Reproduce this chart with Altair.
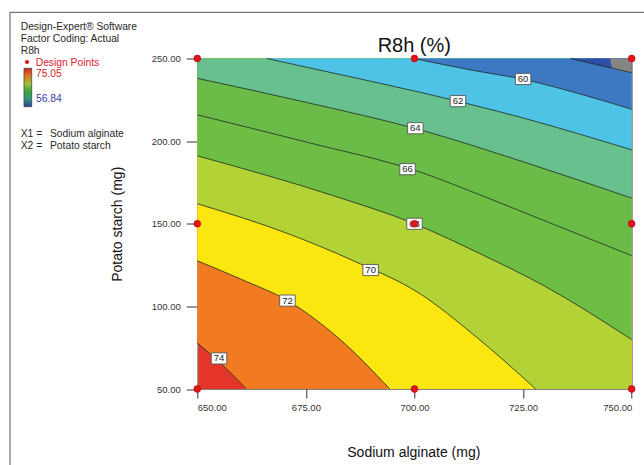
import altair as alt
import pandas as pd

# ---------------- data ----------------
sodium_ticks = [650, 675, 700, 725, 750]
potato_ticks = [50, 100, 150, 200, 250]

# contour lines (x = Sodium alginate, y = Potato starch)
c74_x = [650.0, 655.6, 661.3]
c74_y = [77.9, 65.0, 50.0]
c72_x = [650.0, 660.0, 670.75, 682.9, 694.3]
c72_y = [127.6, 116.5, 103.5, 79.9, 50.0]
c70_x = [650.0, 671.4, 686.0, 701.35, 713.3, 727.9]
c70_y = [162.1, 143.5, 127.5, 107.5, 83.5, 50.0]
c68_x = [650.0, 681.4, 700.0, 715.0, 729.8, 750.0]
c68_y = [191.1, 166.9, 150.0, 132.0, 112.5, 79.9]
c66_x = [650.0, 675.0, 701.35, 716.0, 729.0, 750.0]
c66_y = [215.9, 199.5, 181.2, 166.5, 152.8, 130.7]
c64_x = [650.0, 675.0, 701.35, 725.0, 750.0]
c64_y = [238.0, 223.5, 206.8, 187.5, 165.5]
c62_x = [666.0, 683.7, 701.35, 725.0, 750.0]
c62_y = [250.0, 239.8, 229.5, 214.0, 194.7]
c60_x = [699.8, 712.9, 725.0, 737.5, 750.0]
c60_y = [250.0, 243.1, 237.4, 229.0, 219.3]
c58_x = [735.9, 750.0]
c58_y = [250.0, 241.4]
low_x = [745.0, 745.6, 750.0]      # region below the colour range (grey)
low_y = [250.0, 244.1, 241.4]

label_text = ["60", "62", "64", "66", "68", "70", "72", "74"]
label_x = [725.0, 710.0, 700.2, 698.4, 700.0, 689.9, 670.75, 655.0]
label_y = [237.6, 224.2, 207.8, 183.0, 150.0, 122.0, 103.5, 68.5]

design_x = [650, 650, 650, 700, 700, 700, 750, 750, 750]
design_y = [50, 150, 250, 50, 150, 250, 50, 150, 250]

# ---------------- styling ----------------
FONT = "Liberation Sans"
band_colors = {
    74: "#F27A21",  # 72-74
    72: "#FCE60F",  # 70-72
    70: "#B3D235",  # 68-70
    68: "#6FBE44",  # 66-68
    66: "#6ABB47",  # 64-66
    64: "#67C08E",  # 62-64
    62: "#4EC3E5",  # 60-62
    60: "#3D79C3",  # 58-60
    58: "#2F4EA7",  # <58
}
contours = [
    (74, c74_x, c74_y), (72, c72_x, c72_y), (70, c70_x, c70_y),
    (68, c68_x, c68_y), (66, c66_x, c66_y), (64, c64_x, c64_y),
    (62, c62_x, c62_y), (60, c60_x, c60_y), (58, c58_x, c58_y),
]

xscale = alt.Scale(domain=[650, 750], nice=False, zero=False)
yscale = alt.Scale(domain=[50, 250], nice=False, zero=False)

xaxis = alt.Axis(
    values=sodium_ticks, format=".2f", title="Sodium alginate (mg)",
    tickSize=9, labelPadding=4, labelFontSize=9.5, labelFont=FONT,
    labelColor="#333", tickColor="#333", domain=False, grid=False,
    titleFont=FONT, titleFontSize=14, titleFontWeight="normal",
    titleColor="#111", titleX=216, titleY=63.7, titleBaseline="middle",
    titleAlign="center")
yaxis = alt.Axis(
    values=potato_ticks, format=".2f", title="Potato starch (mg)",
    tickSize=11, labelPadding=6, labelFontSize=9.5, labelFont=FONT,
    labelColor="#333", tickColor="#333", domain=False, grid=False,
    titleFont=FONT, titleFontSize=14, titleFontWeight="normal",
    titleColor="#111", titleX=-80.3, titleY=165.25, titleAngle=-90,
    titleBaseline="middle", titleAlign="center")


def X(field="x"):
    return alt.X(f"{field}:Q", scale=xscale, axis=xaxis)


def Y(field="y"):
    return alt.Y(f"{field}:Q", scale=yscale, axis=yaxis)


layers = []
for lvl, xs, ys in contours:
    df = pd.DataFrame({"x": xs, "y": ys})
    if ys[-1] <= 50 and xs[-1] < 750:
        # contour leaves through the bottom edge: fill the rest of the band
        # (starts a hair left of the crossing so no seam shows)
        edge = pd.DataFrame({"x": [xs[-1] - 0.4], "x2": [750], "y": [50], "y2": [250]})
        layers.append(
            alt.Chart(edge).mark_rect(color=band_colors[lvl], opacity=1).encode(
                x=X(), x2="x2:Q", y=Y(), y2="y2:Q"
            )
        )
    layers.append(
        alt.Chart(df).mark_area(
            color=band_colors[lvl], interpolate="monotone", opacity=1
        ).encode(x=X(), y=Y(), y2=alt.datum(250))
    )
layers.append(
    alt.Chart(pd.DataFrame({"x": low_x, "y": low_y})).mark_area(
        color="#858585", interpolate="monotone"
    ).encode(x=X(), y=Y(), y2=alt.datum(250))
)
for lvl, xs, ys in contours:
    layers.append(
        alt.Chart(pd.DataFrame({"x": xs, "y": ys})).mark_line(
            color="#1e2a22", strokeWidth=0.8, interpolate="monotone"
        ).encode(x=X(), y=Y())
    )

labels_df = pd.DataFrame({"x": label_x, "y": label_y, "t": label_text})
layers.append(
    alt.Chart(labels_df).mark_point(
        shape="M-1,-0.72L1,-0.72L1,0.72L-1,0.72Z", filled=True, fill="white",
        stroke="#555", strokeWidth=0.9, size=240, opacity=1
    ).encode(x=X(), y=Y())
)
layers.append(
    alt.Chart(labels_df).mark_text(font=FONT, fontSize=9.5, color="#222").encode(
        x=X(), y=Y(), text="t:N"
    )
)

design_df = pd.DataFrame({"x": design_x, "y": design_y})
layers.append(
    alt.Chart(design_df).mark_point(
        shape="circle", filled=True, color="#E3141C", size=46, opacity=1,
        stroke="#B00000", strokeWidth=0.6
    ).encode(x=X(), y=Y())
)

one = alt.Data(values=[{"a": 1}])


def txt(s, x, y, size=10.3, color="#2a2a2a", align="left"):
    return alt.Chart(one).mark_text(
        text=s, font=FONT, fontSize=size, color=color, align=align,
        baseline="alphabetic"
    ).encode(x=alt.value(x), y=alt.value(y))


# chart title
layers.append(txt("R8h (%)", 217, -7, size=20, color="#111", align="center"))

# left-hand info panel
layers.append(txt("Design-Expert® Software", -176.6, -28.5))
layers.append(txt("Factor Coding: Actual", -176.6, -16.4))
layers.append(txt("R8h", -176.6, -4.4))
layers.append(
    alt.Chart(one).mark_point(shape="circle", filled=True, color="#D8141C", size=18, opacity=1)
    .encode(x=alt.value(-170.3), y=alt.value(3.5))
)
layers.append(txt("Design Points", -161.6, 7.6, color="#E3202E"))
grad = alt.Gradient(
    gradient="linear", x1=0, x2=0, y1=0, y2=1,
    stops=[
        alt.GradientStop(color="#D82020", offset=0.0),
        alt.GradientStop(color="#E0701E", offset=0.18),
        alt.GradientStop(color="#9CC63A", offset=0.4),
        alt.GradientStop(color="#3FA33E", offset=0.6),
        alt.GradientStop(color="#2E9A78", offset=0.8),
        alt.GradientStop(color="#2A3FA0", offset=1.0),
    ],
)
layers.append(
    alt.Chart(one).mark_rect(color=grad, stroke="#444", strokeWidth=0.8).encode(
        x=alt.value(-173.3), x2=alt.value(-165.6), y=alt.value(9.8), y2=alt.value(48.2)
    )
)
layers.append(txt("75.05", -161.3, 18.9, color="#D42828"))
layers.append(txt("56.84", -161.3, 43.9, color="#3A3AB0"))
layers.append(txt("X1 =", -176.6, 78.9))
layers.append(txt("Sodium alginate", -147.3, 78.9))
layers.append(txt("X2 =", -176.6, 90.2))
layers.append(txt("Potato starch", -147.3, 90.2))

# outer frame (left and top edges)
layers.append(
    alt.Chart(one).mark_rule(color="#555", strokeWidth=1).encode(
        x=alt.value(-187.3), y=alt.value(-46.2), y2=alt.value(410)
    )
)
layers.append(
    alt.Chart(one).mark_rule(color="#555", strokeWidth=1).encode(
        x=alt.value(-187.3), x2=alt.value(450), y=alt.value(-46.2)
    )
)

chart = alt.layer(*layers).properties(
    width=434.4,
    height=330.5,
    padding={"left": 197.3, "top": 58.5, "right": 12.3, "bottom": 76},
    autosize=alt.AutoSizeParams(type="none"),
    background="white",
).configure_view(
    fill="#E5352B", stroke="#808080", strokeWidth=1
)

chart.save("out.html", embed_options={"renderer": "svg", "actions": False})
